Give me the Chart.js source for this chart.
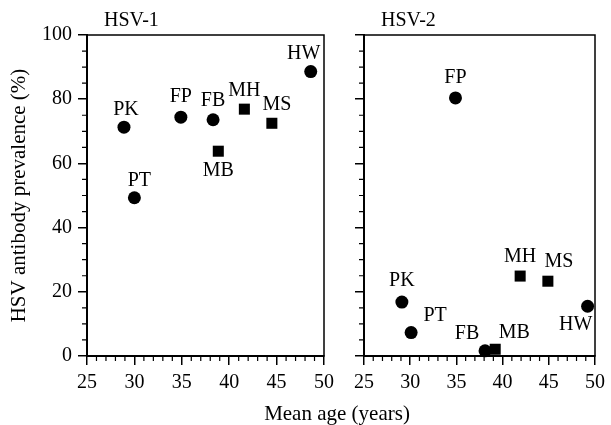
<!DOCTYPE html>
<html>
<head>
<meta charset="utf-8">
<script src="https://cdn.jsdelivr.net/npm/chart.js@4/dist/chart.umd.min.js"></script>
<style>
  body { margin: 0; background: #fff; }
  #wrap { position: relative; width: 611px; height: 425px; font-family: "Liberation Serif", serif; }
  .panel { position: absolute; top: 0; }
  #xtitle { position: absolute; left: 237px; width: 200px; top: 401px; text-align: center; font-size: 21px; line-height: 24px; color: #000; }
</style>
</head>
<body>
<div id="wrap">
  <div class="panel" style="left:0"><canvas id="hsv1" width="340" height="425"></canvas></div>
  <div class="panel" style="left:335px"><canvas id="hsv2" width="276" height="425"></canvas></div>
  <div id="xtitle">Mean age (years)</div>
</div>
<script>
// sitios y marcadores
const sites = ['PK', 'PT', 'FP', 'FB', 'MB', 'MH', 'MS', 'HW'];
const siteMarkers = ['circle', 'circle', 'circle', 'circle', 'rect', 'rect', 'rect', 'circle'];

// HSV-1
const ageHsv1 = [28.9, 30.0, 34.9, 38.3, 38.85, 41.6, 44.5, 48.6];
const prevHsv1 = [71.3, 49.3, 74.4, 73.6, 63.8, 76.9, 72.5, 88.6];

// HSV-2
const ageHsv2 = [29.1, 30.1, 34.9, 38.1, 39.2, 41.9, 44.9, 49.2];
const prevHsv2 = [16.8, 7.3, 80.4, 1.6, 2.1, 24.9, 23.3, 15.5];

// ticks
const xTickValues = [25, 30, 35, 40, 45, 50];
const yTickValues = [0, 20, 40, 60, 80, 100];

// donde va cada etiqueta respecto a su punto (px)
const labelOffsets1 = [[2, -17], [5, -17], [0, -20], [0, -19], [0, 20], [0, -18], [5, -19], [-7, -18]];
const labelOffsets2 = [[0, -21], [24, -17], [0, -20], [-18, -17], [19, -17], [0, -19], [11, -19], [-12, 19]];

const FONT = 'Liberation Serif';

const panelPlugin = {
    id: 'panel',
    beforeDatasetsDraw: (chart) => {
        const { ctx, chartArea: a, scales } = chart;
        ctx.save();
        ctx.strokeStyle = '#000';
        ctx.lineWidth = 1.5;
        ctx.strokeRect(a.left, a.top, a.right - a.left, a.bottom - a.top);
        // ticks menores
        ctx.lineWidth = 1.2;
        ctx.beginPath();
        for (let v = 0; v <= 100; v += 5) {
            if (v % 20 === 0) continue;
            const y = scales.y.getPixelForValue(v);
            ctx.moveTo(a.left - 5, y);
            ctx.lineTo(a.left, y);
        }
        for (let v = 25; v <= 50; v++) {
            if (v % 5 === 0) continue;
            const x = scales.x.getPixelForValue(v);
            ctx.moveTo(x, a.bottom);
            ctx.lineTo(x, a.bottom + 5);
        }
        ctx.stroke();
        ctx.restore();
    },
    afterDatasetsDraw: (chart, args, opts) => {
        const { ctx, chartArea: a } = chart;
        ctx.save();
        ctx.fillStyle = '#000';
        ctx.font = '20px "' + FONT + '"';
        ctx.textAlign = 'center';
        ctx.textBaseline = 'middle';
        chart.getDatasetMeta(0).data.forEach((pt, i) => {
            const o = opts.offsets[i];
            ctx.fillText(sites[i], pt.x + o[0], pt.y + o[1]);
        });
        ctx.textAlign = 'left';
        ctx.fillText(opts.title, a.left + 17, a.top - 14);
        ctx.restore();
    }
};

function crearPanel(id, title, ages, prevs, offsets, conEje) {
    const points = ages.map((x, i) => ({ x: x, y: prevs[i] }));
    return new Chart(document.getElementById(id), {
        type: 'scatter',
        data: {
            datasets: [{
                data: points,
                pointStyle: siteMarkers,
                pointRadius: siteMarkers.map(m => m === 'rect' ? 7.8 : 6.5),
                backgroundColor: '#000',
                borderColor: '#000',
                borderWidth: 0,
                clip: false
            }]
        },
        options: {
            responsive: false,
            animation: false,
            events: [],
            layout: { padding: { top: 35, right: conEje ? 15 : 10, bottom: 0, left: 0 } },
            plugins: {
                legend: { display: false },
                tooltip: { enabled: false },
                panel: { title: title, offsets: offsets }
            },
            scales: {
                x: {
                    type: 'linear',
                    min: 25, max: 50,
                    afterBuildTicks: (s) => { s.ticks = xTickValues.map(v => ({ value: v })); },
                    afterFit: (s) => { s.height = 69; },
                    border: { display: true, color: '#000', width: 2 },
                    grid: { drawOnChartArea: false, drawTicks: true, tickLength: 9, color: '#000', lineWidth: 1.5 },
                    ticks: { color: '#000', font: { family: FONT, size: 20 }, padding: 6, maxRotation: 0, autoSkip: false }
                },
                y: {
                    type: 'linear',
                    min: 0, max: 100,
                    afterBuildTicks: (s) => { s.ticks = yTickValues.map(v => ({ value: v })); },
                    afterFit: (s) => { s.width = conEje ? 87 : 29; },
                    border: { display: true, color: '#000', width: 2 },
                    grid: { drawOnChartArea: false, drawTicks: true, tickLength: 9, color: '#000', lineWidth: 1.5 },
                    ticks: { display: conEje, color: '#000', font: { family: FONT, size: 20 }, padding: 6 },
                    title: {
                        display: conEje,
                        text: 'HSV antibody prevalence (%)',
                        color: '#000',
                        font: { family: FONT, size: 21 },
                        padding: { top: 7, bottom: 0 }
                    }
                }
            }
        },
        plugins: [panelPlugin]
    });
}

crearPanel('hsv1', 'HSV-1', ageHsv1, prevHsv1, labelOffsets1, true);
crearPanel('hsv2', 'HSV-2', ageHsv2, prevHsv2, labelOffsets2, false);
</script>
</body>
</html>
